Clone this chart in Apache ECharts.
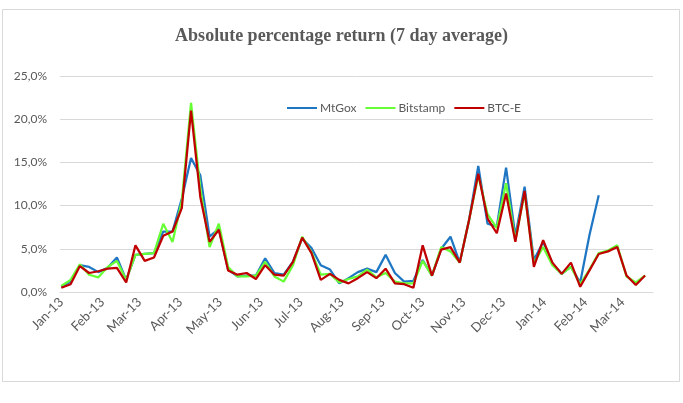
<!DOCTYPE html>
<html>
<head>
<meta charset="utf-8">
<script src="https://cdn.jsdelivr.net/npm/echarts@6/dist/echarts.min.js"></script>
<style>
html,body{margin:0;padding:0;background:#fff;}
#c{width:683px;height:403px;}
</style>
</head>
<body>
<div id="c"></div>
<script>
const weeks = [
 '2013-01-01','2013-01-08','2013-01-15','2013-01-22','2013-01-29','2013-02-05','2013-02-12','2013-02-19','2013-02-26',
 '2013-03-05','2013-03-12','2013-03-19','2013-03-26','2013-04-02','2013-04-09','2013-04-16','2013-04-23','2013-04-30',
 '2013-05-07','2013-05-14','2013-05-21','2013-05-28','2013-06-04','2013-06-11','2013-06-18','2013-06-25',
 '2013-07-02','2013-07-09','2013-07-16','2013-07-23','2013-07-30','2013-08-06','2013-08-13','2013-08-20','2013-08-27',
 '2013-09-03','2013-09-10','2013-09-17','2013-09-24','2013-10-01','2013-10-08','2013-10-15','2013-10-22','2013-10-29',
 '2013-11-05','2013-11-12','2013-11-19','2013-11-26','2013-12-03','2013-12-10','2013-12-17','2013-12-24','2013-12-31',
 '2014-01-07','2014-01-14','2014-01-21','2014-01-28','2014-02-04','2014-02-11','2014-02-18','2014-02-25',
 '2014-03-04','2014-03-11','2014-03-18'
];
const mtgox = [
 0.6,1.2,3.1,2.9,2.3,2.8,4.0,1.4,4.3,4.4,4.5,7.0,7.0,10.8,15.5,13.5,6.4,7.3,2.6,1.8,1.9,1.9,3.9,2.2,2.0,
 3.5,6.2,5.1,3.1,2.6,1.0,1.6,2.3,2.7,2.3,4.3,2.2,1.2,1.3,3.7,1.9,5.0,6.4,3.4,8.3,14.6,7.9,7.6,14.4,6.5,
 12.2,3.7,5.8,3.3,2.1,2.9,1.1,6.6,11.2,null,null,null,null,null
];
const bitstamp = [
 0.7,1.4,3.2,2.0,1.7,2.9,3.6,1.4,4.3,4.4,4.5,7.9,5.8,10.5,21.9,12.0,5.2,7.9,2.9,1.8,1.8,1.9,3.5,1.8,1.2,
 3.1,6.4,4.6,2.0,2.1,1.1,1.5,1.8,2.6,1.7,2.2,1.2,1.0,1.0,3.6,1.9,5.2,4.7,3.4,8.3,13.5,9.0,7.4,12.6,6.0,
 11.5,3.3,5.2,3.1,2.1,2.9,0.9,2.6,4.5,4.8,5.4,1.8,1.1,1.9
];
const btce = [
 0.5,0.9,3.0,2.2,2.4,2.7,2.8,1.1,5.4,3.6,4.0,6.5,7.0,9.7,21.0,11.0,5.8,7.2,2.5,2.0,2.2,1.5,3.1,2.0,1.9,
 3.5,6.3,4.5,1.4,2.1,1.4,1.0,1.6,2.3,1.6,2.7,1.0,0.9,0.5,5.4,1.9,4.9,5.2,3.4,8.3,13.7,8.5,6.8,11.4,5.8,
 11.7,2.9,6.0,3.4,2.1,3.4,0.6,2.5,4.4,4.7,5.2,1.9,0.8,1.9
];
const monthTicks = ['2013-01-01','2013-02-01','2013-03-01','2013-04-01','2013-05-01','2013-06-01','2013-07-01','2013-08-01',
 '2013-09-01','2013-10-01','2013-11-01','2013-12-01','2014-01-01','2014-02-01','2014-03-01'];
const monthLabels = ['Jan-13','Feb-13','Mar-13','Apr-13','May-13','Jun-13','Jul-13','Aug-13','Sep-13','Oct-13','Nov-13','Dec-13','Jan-14','Feb-14','Mar-14'];
const yTicks = [0,5,10,15,20,25];
const seriesNames = ['MtGox','Bitstamp','BTC-E'];

const DAY = 86400000;
const ts = s => Date.parse(s + 'T00:00:00Z') / DAY;
const tickDays = monthTicks.map(ts);
const pair = arr => weeks.map((w,i) => [ts(w), arr[i]]);

const chart = echarts.init(document.getElementById('c'), null, {renderer:'canvas'});
const font = 'Lato';
chart.setOption({
  animation: false,
  backgroundColor: '#fff',
  title: {
    text: 'Absolute percentage return (7 day average)',
    left: 'center', top: 22,
    textStyle: {fontFamily: 'Liberation Serif', fontWeight: 'bold', fontSize: 18, color: '#595959'}
  },
  graphic: [{
    type: 'rect', shape: {x: 2.5, y: 9.5, width: 677, height: 372},
    style: {fill: 'none', stroke: '#d9d9d9', lineWidth: 1}, silent: true
  }],
  legend: {
    data: seriesNames,
    left: 282, top: 97,
    itemWidth: 30, itemHeight: 14, itemGap: 9,
    icon: 'path://M0,6 L30,6 L30,8 L0,8 Z',
    textStyle: {fontFamily: font, fontSize: 12, color: '#595959', padding: [0,0,0,-2]}
  },
  grid: {left: 60, right: 30, top: 76, bottom: 111, containLabel: false},
  xAxis: {
    type: 'value',
    min: ts('2012-12-31'), max: ts('2014-03-24'),
    axisLine: {show: true, onZero: false, lineStyle: {color: '#d9d9d9', width: 1}},
    axisTick: {show: false},
    splitLine: {show: false},
    axisLabel: {
      customValues: tickDays,
      rotate: 45,
      margin: 8,
      fontFamily: font, fontSize: 13, color: '#595959',
      formatter: v => { const i = tickDays.indexOf(v); return i >= 0 ? monthLabels[i] : ''; }
    }
  },
  yAxis: {
    type: 'value', min: yTicks[0], max: yTicks[yTicks.length-1], interval: 5,
    axisLine: {show: false}, axisTick: {show: false},
    splitLine: {lineStyle: {color: '#d9d9d9', width: 1}},
    axisLabel: {
      margin: 13, fontFamily: font, fontSize: 12, color: '#595959',
      formatter: v => v.toFixed(1).replace('.', ',') + '%'
    }
  },
  series: [
    {name: seriesNames[0], type: 'line', data: pair(mtgox), showSymbol: false, symbol: 'none',
     lineStyle: {width: 2.25, color: '#1f77c4'}, itemStyle: {color: '#1f77c4'}, connectNulls: false},
    {name: seriesNames[1], type: 'line', data: pair(bitstamp), showSymbol: false, symbol: 'none',
     lineStyle: {width: 2.25, color: '#66ff33'}, itemStyle: {color: '#66ff33'}},
    {name: seriesNames[2], type: 'line', data: pair(btce), showSymbol: false, symbol: 'none',
     lineStyle: {width: 2.25, color: '#c00000'}, itemStyle: {color: '#c00000'}}
  ]
});
</script>
</body>
</html>
